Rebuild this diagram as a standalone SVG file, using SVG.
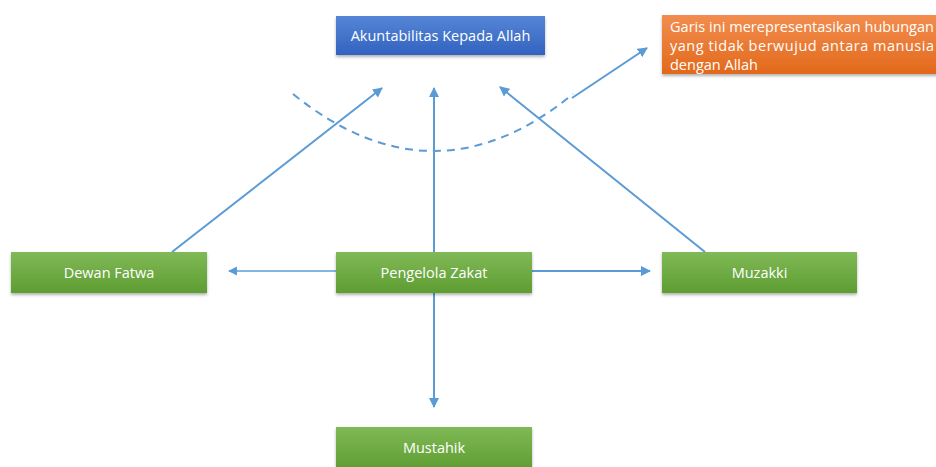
<svg xmlns="http://www.w3.org/2000/svg" width="936" height="467" viewBox="0 0 936 467">
<style>
.lbl{font-family:"Open Sans","Liberation Sans",sans-serif;font-size:14.5px;fill:#ffffff;text-anchor:middle;}
.note{font-family:"Open Sans","Liberation Sans",sans-serif;font-size:14.5px;fill:#ffffff;}
.ln{stroke:#5b9bd5;stroke-width:2;fill:none;}
.thin{stroke:#5b9bd5;stroke-width:1.3;fill:none;}
</style>
<defs>
<linearGradient id="gG" x1="0" y1="0" x2="0" y2="1"><stop offset="0" stop-color="#80b957"/><stop offset="1" stop-color="#5e9d31"/></linearGradient>
<linearGradient id="gB" x1="0" y1="0" x2="0" y2="1"><stop offset="0" stop-color="#5585d6"/><stop offset="1" stop-color="#3263c0"/></linearGradient>
<linearGradient id="gO" x1="0" y1="0" x2="0" y2="1"><stop offset="0" stop-color="#f28d4f"/><stop offset="1" stop-color="#e2691b"/></linearGradient>
<filter id="sh" x="-10%" y="-20%" width="120%" height="150%"><feDropShadow dx="0" dy="2" stdDeviation="1.5" flood-color="#000" flood-opacity="0.3"/></filter>
<marker id="ar" viewBox="0 0 10 10" refX="9" refY="5" markerWidth="5" markerHeight="5" orient="auto"><path d="M0,0 L10,5 L0,10 z" fill="#5b9bd5"/></marker>
<marker id="ar2" viewBox="0 0 10 10" refX="9" refY="5" markerWidth="7" markerHeight="7" orient="auto"><path d="M0,0 L10,5 L0,10 z" fill="#5b9bd5"/></marker>
</defs>
<rect width="936" height="467" fill="#ffffff"/>
<g id="connectors">
<path d="M293,94 Q434,208 573,94" stroke="#5b9bd5" stroke-width="2" fill="none" stroke-dasharray="8,6"/>
<line class="ln" x1="434" y1="252" x2="434" y2="88" marker-end="url(#ar)"/>
<line class="ln" x1="172" y1="252" x2="382" y2="88" marker-end="url(#ar)"/>
<line class="ln" x1="705" y1="252" x2="500" y2="87" marker-end="url(#ar)"/>
<line class="ln" x1="572" y1="98" x2="647" y2="48" marker-end="url(#ar)"/>
<line class="thin" x1="336" y1="271" x2="229" y2="271" marker-end="url(#ar2)"/>
<line class="ln" x1="532" y1="271" x2="650" y2="271" marker-end="url(#ar)"/>
<line class="ln" x1="434" y1="293" x2="434" y2="407" marker-end="url(#ar)"/>
</g>
<g id="akuntabilitas">
<rect x="336" y="16" width="209" height="39" fill="url(#gB)" filter="url(#sh)"/>
<text class="lbl" x="440.5" y="41">Akuntabilitas Kepada Allah</text>
</g>
<g id="catatan">
<rect x="662" y="15" width="280" height="59" fill="url(#gO)" filter="url(#sh)"/>
<text class="note" x="670" y="32" textLength="264" lengthAdjust="spacing">Garis ini merepresentasikan hubungan</text>
<text class="note" x="670" y="51" textLength="264" lengthAdjust="spacing">yang tidak berwujud antara manusia</text>
<text class="note" x="670" y="70">dengan Allah</text>
</g>
<g id="dewan-fatwa">
<rect x="11" y="252" width="196" height="41" fill="url(#gG)" filter="url(#sh)"/>
<text class="lbl" x="109" y="277.5">Dewan Fatwa</text>
</g>
<g id="pengelola-zakat">
<rect x="336" y="252" width="196" height="41" fill="url(#gG)" filter="url(#sh)"/>
<text class="lbl" x="434" y="277.5">Pengelola Zakat</text>
</g>
<g id="muzakki">
<rect x="662" y="252" width="195" height="41" fill="url(#gG)" filter="url(#sh)"/>
<text class="lbl" x="759.5" y="277.5">Muzakki</text>
</g>
<g id="mustahik">
<rect x="336" y="427" width="196" height="43" fill="url(#gG)" filter="url(#sh)"/>
<text class="lbl" x="434" y="452.5">Mustahik</text>
</g>
</svg>
